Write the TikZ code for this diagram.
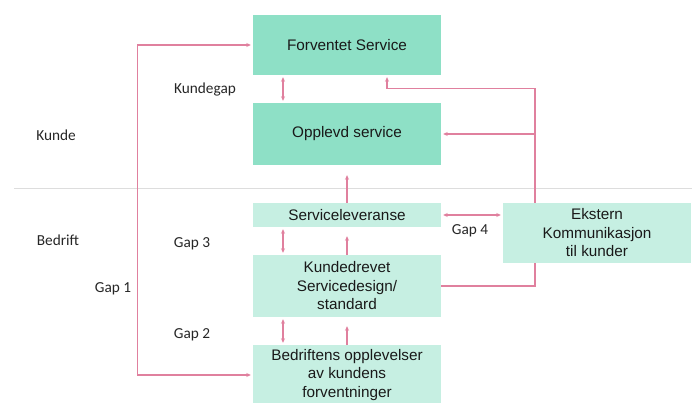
\documentclass[tikz,border=0pt]{standalone}
\usepackage{fontspec}
\setmainfont{Liberation Sans}
\newfontfamily\lblfont{Carlito}
\usepackage{xcolor}
\usepackage{tikz}
\usetikzlibrary{positioning,calc,arrows.meta}

\definecolor{darkmint}{HTML}{8EE0C6}
\definecolor{lightmint}{HTML}{C6EFE2}
\definecolor{gaplink}{HTML}{E0809E}
\definecolor{divider}{HTML}{DDDDDD}

\tikzset{
    box/.style={minimum width=188pt, inner sep=0pt, align=center, text=black!90,
        font=\fontsize{15.3}{18.5}\selectfont},
    kundebox/.style={box, fill=darkmint},
    bedriftbox/.style={box, fill=lightmint},
    lbl/.style={text=black!85, font=\lblfont\fontsize{15.3}{18}\selectfont},
    link/.style={draw=gaplink, line width=1.1pt, >={Stealth[length=4.5pt,width=4pt]}}
}

\begin{document}
\begin{tikzpicture}[x=1pt,y=-1pt]
    \useasboundingbox (0,0) rectangle (692,403);

    % Divider
    \draw[divider, line width=1pt] (14,189) -- (692,189);

    % Boxes
    \node[kundebox, minimum height=60pt] (fs) at (347,45) {Forventet Service};
    \node[kundebox, minimum height=62pt] (os) at (347,134) {Opplevd service};
    \node[bedriftbox, minimum height=24pt] (sl) at (347,215) {Serviceleveranse};
    \node[bedriftbox, minimum height=62pt] (kd) at (347,286) {Kundedrevet\\Servicedesign/\\standard};
    \node[bedriftbox, minimum height=60pt] (bo) at (347,375) {Bedriftens opplevelser\\av kundens\\forventninger};
    \node[bedriftbox, minimum height=60pt] (ek) at (597,233) {Ekstern\\Kommunikasjon\\til kunder};

    % Labels
    \node[lbl] (kunde) at (56,135) {Kunde};
    \node[lbl] (bedrift) at (58,240) {Bedrift};
    \node[lbl] (gap1) at (113,289) {Gap 1};
    \node[lbl] (kundegap) at (205,90) {Kundegap};
    \node[lbl] (gap3) at (192,244) {Gap 3};
    \node[lbl] (gap2) at (192,335) {Gap 2};
    \node[lbl] (gap4) at (470,231) {Gap 4};

    % Gaps
    \draw[link,<->,shorten <=2pt,shorten >=2pt] (fs.west) -- ++(-115,0) |- (bo.west);
    \draw[link,<->,shorten <=2pt,shorten >=2pt] ([xshift=-64pt]fs.south) -- ([xshift=-64pt]os.north);
    \draw[link,<->,shorten <=2pt,shorten >=2pt] ([xshift=-64pt]sl.south) -- ([xshift=-64pt]kd.north);
    \draw[link,<->,shorten <=2pt,shorten >=2pt] ([xshift=-64pt]kd.south) -- ([xshift=-64pt]bo.north);
    \draw[link,<->,shorten <=2pt,shorten >=2pt] (sl.east) -- (sl.east -| ek.west);

    % Flow upwards
    \draw[link,->,shorten >=10pt] (sl.north) -- (os.south);
    \draw[link,->,shorten >=9pt] (kd.north) -- (sl.south);
    \draw[link,->,shorten >=9pt] (bo.north) -- (kd.south);

    % External communication
    \draw[link] (kd.east) -| ([xshift=-62pt]ek.south);
    \draw[link,->,shorten >=2pt] ([xshift=-62pt]ek.north) -- ++(0,-114) -| ([xshift=40pt]fs.south);
    \draw[link,->,shorten >=2pt] ([xshift=-62pt]ek.north |- os.east) -- (os.east);
\end{tikzpicture}
\end{document}
